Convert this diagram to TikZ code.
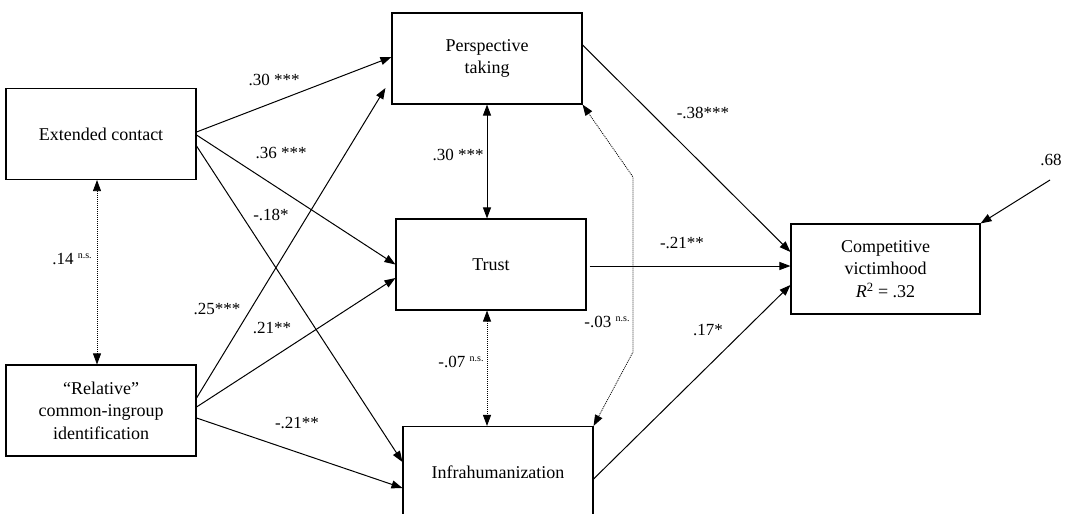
\documentclass[tikz,border=0pt]{standalone}
\usepackage{fontspec}
\setmainfont{Liberation Serif}
\usetikzlibrary{arrows.meta}
\newcommand\nsmark{\raisebox{6pt}{\fontsize{10}{10}\selectfont n.s.}}
\begin{document}
\begin{tikzpicture}[x=1pt,y=-1pt,
  box/.style={draw,line width=1.1pt,minimum width=190pt,minimum height=91pt,inner sep=0pt,align=center,font=\fontsize{18}{22.5}\selectfont},
  lab/.style={inner sep=0pt,font=\fontsize{17}{20}\selectfont},
  arr/.style={line width=1pt,-{Triangle[length=11pt,width=8pt]}},
  darr/.style={line width=1pt,{Triangle[length=11pt,width=8pt]}-{Triangle[length=11pt,width=8pt]}},
  dotarr/.style={line width=0.8pt,dash pattern=on 1pt off 1pt,{Triangle[length=11pt,width=8pt]}-{Triangle[length=11pt,width=8pt]}}]
\useasboundingbox (0,0) rectangle (1071,514);

\node[box] (ext) at (101,134) {Extended contact};
\node[box] (rel) at (101,410.5) {“Relative”\\common-ingroup\\identification};
\node[box] (persp) at (487,58.5) {Perspective\\taking};
\node[box] (trust) at (491,264.5) {Trust};
\node[box] (infra) at (498,472) {Infrahumanization};
\node[box,minimum width=189pt,minimum height=90pt] (cv) at (885.5,269) {Competitive\\victimhood\\\textit{R}\textsuperscript{2} = .32};

\coordinate (err) at (1050,180);
\coordinate (b1) at (633,177);
\coordinate (b2) at (633,352);

% paths from extended contact
\draw[arr] ([yshift=2pt]ext.east) -- ([yshift=1.5pt]persp.west);
\draw[arr] ([yshift=-1pt]ext.east) -- (trust.west);
\draw[arr] ([yshift=-12pt]ext.east) -- ([yshift=10pt]infra.west);
% paths from relative
\draw[arr] ([yshift=12.5pt]rel.east) -- ([xshift=-6pt,yshift=-29.5pt]persp.west);
\draw[arr] ([yshift=3.5pt]rel.east) -- ([yshift=-13.5pt]trust.west);
\draw[arr] ([yshift=-7.5pt]rel.east) -- ([yshift=-16pt]infra.west);
% to competitive victimhood
\draw[arr] ([yshift=13.5pt]persp.east) -- ([yshift=17pt]cv.west);
\draw[arr] ([xshift=3pt,yshift=-1.5pt]trust.east) -- ([yshift=3pt]cv.west);
\draw[arr] ([yshift=-7pt]infra.east) -- ([yshift=-16pt]cv.west);
\draw[arr] (err) -- (cv.north east);
% correlations
\draw[darr] (persp.south) -- (persp.south |- trust.north);
\draw[dotarr] ([xshift=-4pt]trust.south) -- ([xshift=-4pt]trust.south |- infra.north);
\draw[dotarr] ([xshift=-4pt]ext.south) -- ([xshift=-4pt]ext.south |- rel.north);
\draw[dotarr] (persp.south east) -- (b1) -- (b2) -- (infra.north east);

% labels
\node[lab] (l1) at (274,80) {.30 ***};
\node[lab] (l2) at (281,153) {.36 ***};
\node[lab] (l3) at (271,215) {-.18*};
\node[lab] (l4) at (217,309) {.25***};
\node[lab] (l5) at (272,328) {.21**};
\node[lab] (l6) at (297,423) {-.21**};
\node[lab] (l7) at (72,259) {.14 \nsmark};
\node[lab] (l8) at (458,155) {.30 ***};
\node[lab] (l9) at (461,362) {-.07 \nsmark};
\node[lab] (l10) at (607,322) {-.03 \nsmark};
\node[lab] (l11) at (703,113) {-.38***};
\node[lab] (l12) at (682,243) {-.21**};
\node[lab] (l13) at (708,330) {.17*};
\node[lab] (l14) at (1051,160) {.68};
\end{tikzpicture}
\end{document}
